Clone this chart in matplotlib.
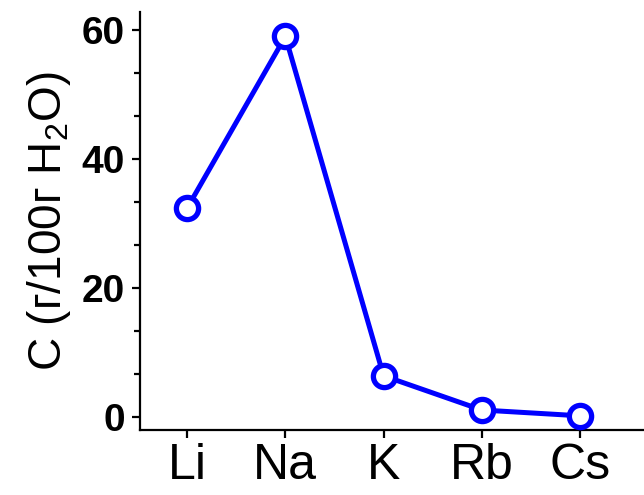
import matplotlib
matplotlib.use('Agg')
import matplotlib.pyplot as plt
from matplotlib.ticker import AutoMinorLocator

plt.rcParams['font.family'] = ['Liberation Sans', 'DejaVu Sans']
plt.rcParams['mathtext.default'] = 'regular'

# Растворимость по щелочным металлам
elements = ['Li', 'Na', 'K', 'Rb', 'Cs']
solubility = [32.4, 59.0, 6.4, 1.1, 0.2]
y_ticks = [0, 20, 40, 60]

fig = plt.figure(figsize=(6.44, 4.95), dpi=100)
ax = fig.add_axes([0.2174, 0.1313, 0.79, 0.8445])

x = list(range(len(elements)))
ax.plot(x, solubility, color='#0000ff', linewidth=3.6, marker='o', markersize=16,
        markerfacecolor='white', markeredgecolor='#0000ff', markeredgewidth=3.8,
        clip_on=False, zorder=3)

ax.set_xlim(-0.48, 4.70)
ax.set_ylim(-2, 62.8)
ax.set_xticks(x)
ax.set_xticklabels(elements, fontsize=36)
ax.set_yticks(y_ticks)
ax.set_yticklabels([str(v) for v in y_ticks], fontsize=28, fontweight='bold')
ax.yaxis.set_minor_locator(AutoMinorLocator(3))

ax.spines['top'].set_visible(False)
ax.spines['right'].set_visible(False)
for s in ['left', 'bottom']:
    ax.spines[s].set_linewidth(1.6)

ax.tick_params(axis='both', which='major', direction='out', length=6, width=1.6)
ax.tick_params(axis='y', which='minor', direction='out', length=4, width=1.6)
ax.tick_params(axis='y', which='major', pad=5)
ax.tick_params(axis='x', which='major', pad=3)

ax.set_ylabel('C (г/100г H$_2$O)', fontsize=33, labelpad=6)

fig.savefig('out.png', dpi=100)
